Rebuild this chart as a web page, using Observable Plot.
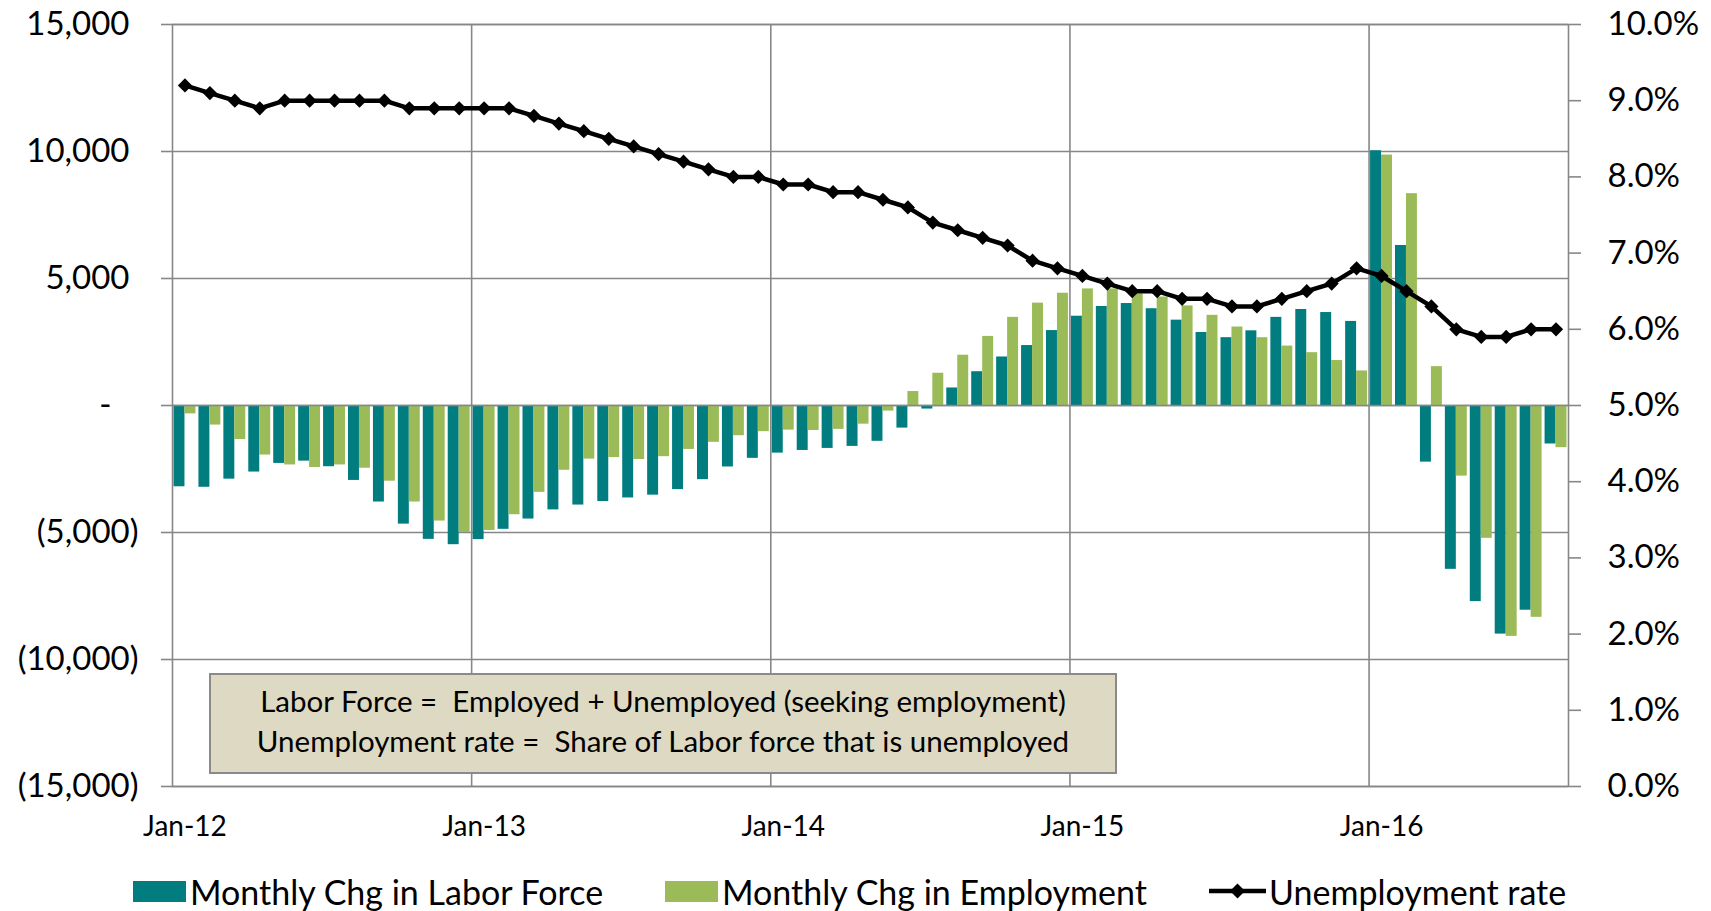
<!DOCTYPE html>
<html>
<head>
<meta charset="utf-8">
<script src="https://cdn.jsdelivr.net/npm/d3@7"></script>
<script src="https://cdn.jsdelivr.net/npm/@observablehq/plot@0.6"></script>
<style>
  html, body { margin: 0; padding: 0; background: #fff; }
  #wrap { position: relative; width: 1711px; height: 911px; font-family: Lato, "Open Sans", sans-serif; color: #000; overflow: hidden; }
  #note { position: absolute; left: 209px; top: 673px; width: 904px; height: 97px; background: #DDD9C3; border: 2px solid #8a8a8a; display: flex; flex-direction: column; justify-content: center; align-items: center; font-size: 29.5px; line-height: 40px; padding-bottom: 6px; box-sizing: border-box; height: 101px; width: 908px; }
  #note div { white-space: pre; text-align: center; }
  .leg { position: absolute; top: 871px; height: 40px; display: flex; align-items: center; font-size: 34px; white-space: nowrap; }
  .sw { display: inline-block; width: 53px; height: 21px; margin-right: 4px; }
</style>
</head>
<body>
<div id="wrap"></div>
<script>
// ---- Data ----
const months = [
  "Jan-12","Feb-12","Mar-12","Apr-12","May-12","Jun-12","Jul-12","Aug-12","Sep-12","Oct-12","Nov-12","Dec-12",
  "Jan-13","Feb-13","Mar-13","Apr-13","May-13","Jun-13","Jul-13","Aug-13","Sep-13","Oct-13","Nov-13","Dec-13",
  "Jan-14","Feb-14","Mar-14","Apr-14","May-14","Jun-14","Jul-14","Aug-14","Sep-14","Oct-14","Nov-14","Dec-14",
  "Jan-15","Feb-15","Mar-15","Apr-15","May-15","Jun-15","Jul-15","Aug-15","Sep-15","Oct-15","Nov-15","Dec-15",
  "Jan-16","Feb-16","Mar-16","Apr-16","May-16","Jun-16","Jul-16","Aug-16"
];
const laborForce = [
  -3200,-3220,-2900,-2620,-2280,-2190,-2410,-2950,-3800,-4670,-5270,-5480,
  -5280,-4875,-4470,-4110,-3920,-3780,-3640,-3530,-3310,-2920,-2420,-2080,
  -1875,-1770,-1690,-1610,-1410,-890,-140,690,1330,1910,2360,2950,
  3515,3900,4015,3810,3360,2875,2670,2940,3470,3780,3660,3310,
  10030,6300,-2230,-6450,-7720,-9000,-8060,-1515
];
const employment = [
  -330,-770,-1340,-1950,-2340,-2440,-2340,-2470,-2980,-3800,-4550,-5000,
  -4920,-4300,-3420,-2550,-2110,-2050,-2125,-2015,-1730,-1450,-1190,-1030,
  -970,-985,-940,-735,-220,550,1270,1980,2720,3470,4030,4420,
  4590,4590,4390,4270,3920,3550,3090,2670,2340,2080,1770,1360,
  9860,8340,1530,-2780,-5230,-9090,-8340,-1660
];
const unemploymentRate = [
  9.2,9.1,9.0,8.9,9.0,9.0,9.0,9.0,9.0,8.9,8.9,8.9,
  8.9,8.9,8.8,8.7,8.6,8.5,8.4,8.3,8.2,8.1,8.0,8.0,
  7.9,7.9,7.8,7.8,7.7,7.6,7.4,7.3,7.2,7.1,6.9,6.8,
  6.7,6.6,6.5,6.5,6.4,6.4,6.3,6.3,6.4,6.5,6.6,6.8,
  6.7,6.5,6.3,6.0,5.9,5.9,6.0,6.0
];
const xTickLabels = ["Jan-12","Jan-13","Jan-14","Jan-15","Jan-16"];
const leftTicksNeg = [-15000,-10000,-5000];
const leftTicksPos = [5000,10000,15000];
const leftTickZero = [0];
const rightTickPct = [0,1,2,3,4,5,6,7,8,9,10];
const seriesNames = ["Monthly Chg in Labor Force","Monthly Chg in Employment","Unemployment rate"];
const noteLines = ["Labor Force =  Employed + Unemployed (seeking employment)", "Unemployment rate =  Share of Labor force that is unemployed"];

// ---- Styling ----
const TEAL = "#017D80", GREEN = "#9BBB59", GRID = "#878787";
const W = 1711, H = 850, mL = 172, mR = 143, mT = 24, mB = 64;
const step = (W - mL - mR) / months.length;

// Secondary axis: rate 0%..10% maps onto the left domain -15000..15000
const rateToY = r => (r - 5) * 3000;

const table = months.map((m, i) => ({month: m, lf: laborForce[i], emp: employment[i], rate: unemploymentRate[i]}));
const allLeft = [...leftTicksNeg, ...leftTickZero, ...leftTicksPos];

const chart = Plot.plot({
  width: W, height: H,
  marginLeft: mL, marginRight: mR, marginTop: mT, marginBottom: mB,
  style: {fontFamily: "Lato, 'Open Sans', sans-serif", color: "#000", background: "#fff", overflow: "visible"},
  x: {type: "band", domain: months, padding: 0},
  y: {domain: [-15000, 15000], label: null},
  marks: [
    Plot.ruleY(allLeft, {stroke: GRID, strokeWidth: 1.6}),
    Plot.ruleX(xTickLabels.slice(1), {x: d => d, dx: -step / 2, stroke: GRID, strokeWidth: 1.6}),
    Plot.barY(table, {x: "month", y: "lf", fill: TEAL, insetLeft: 1.5, insetRight: step / 2}),
    Plot.barY(table, {x: "month", y: "emp", fill: GREEN, insetLeft: step / 2, insetRight: 1.5}),
    Plot.ruleY([0], {stroke: GRID, strokeWidth: 1.6}),
    Plot.frame({stroke: GRID, strokeWidth: 1.6}),
    Plot.line(table, {x: "month", y: d => rateToY(d.rate), stroke: "#000", strokeWidth: 4.5}),
    Plot.dot(table, {x: "month", y: d => rateToY(d.rate), symbol: "diamond2", r: 6.4, fill: "#000", stroke: "none"}),
    Plot.axisY({anchor: "left", ticks: leftTicksNeg, tickSize: 11, tickPadding: 23, stroke: GRID, strokeWidth: 1.6, fill: "#000", fontSize: 33, label: null,
      tickFormat: v => "(" + d3.format(",")(-v) + ")"}),
    Plot.axisY({anchor: "left", ticks: leftTicksPos, tickSize: 11, tickPadding: 32, stroke: GRID, strokeWidth: 1.6, fill: "#000", fontSize: 33, label: null,
      tickFormat: v => d3.format(",")(v)}),
    Plot.axisY({anchor: "left", ticks: leftTickZero, tickSize: 11, tickPadding: 50, stroke: GRID, strokeWidth: 1.6, fill: "#000", fontSize: 33, label: null,
      tickFormat: () => "-"}),
    Plot.axisY({anchor: "right", ticks: rightTickPct.map(p => rateToY(p)), tickSize: 12, tickPadding: 27, stroke: GRID, strokeWidth: 1.6, fill: "#000", fontSize: 33, label: null,
      tickFormat: v => (v / 3000 + 5).toFixed(1) + "%"}),
    Plot.axisX({ticks: xTickLabels, tickSize: 0, tickPadding: 30, fill: "#000", fontSize: 28, label: null})
  ]
});

const wrap = document.getElementById("wrap");
wrap.appendChild(chart);

// Note box
const note = document.createElement("div");
note.id = "note";
noteLines.forEach(line => {
  const d = document.createElement("div");
  d.textContent = line;
  note.appendChild(d);
});
wrap.appendChild(note);

// Legend
const legendLeft = [133, 665, 1209];
const legendKinds = [TEAL, GREEN, "line"];
seriesNames.forEach((name, i) => {
  const item = document.createElement("div");
  item.className = "leg";
  item.style.left = legendLeft[i] + "px";
  if (legendKinds[i] === "line") {
    const ns = "http://www.w3.org/2000/svg";
    const s = document.createElementNS(ns, "svg");
    s.setAttribute("width", 57); s.setAttribute("height", 20);
    s.style.marginRight = "3px";
    const ln = document.createElementNS(ns, "line");
    ln.setAttribute("x1", 0); ln.setAttribute("x2", 57); ln.setAttribute("y1", 10); ln.setAttribute("y2", 10);
    ln.setAttribute("stroke", "#000"); ln.setAttribute("stroke-width", 4.5);
    const dm = document.createElementNS(ns, "path");
    dm.setAttribute("d", "M28.5,2.5L36,10L28.5,17.5L21,10Z");
    dm.setAttribute("fill", "#000");
    s.appendChild(ln); s.appendChild(dm);
    item.appendChild(s);
  } else {
    const sw = document.createElement("span");
    sw.className = "sw";
    sw.style.background = legendKinds[i];
    item.appendChild(sw);
  }
  const t = document.createElement("span");
  t.textContent = name;
  item.appendChild(t);
  wrap.appendChild(item);
});
</script>
</body>
</html>
